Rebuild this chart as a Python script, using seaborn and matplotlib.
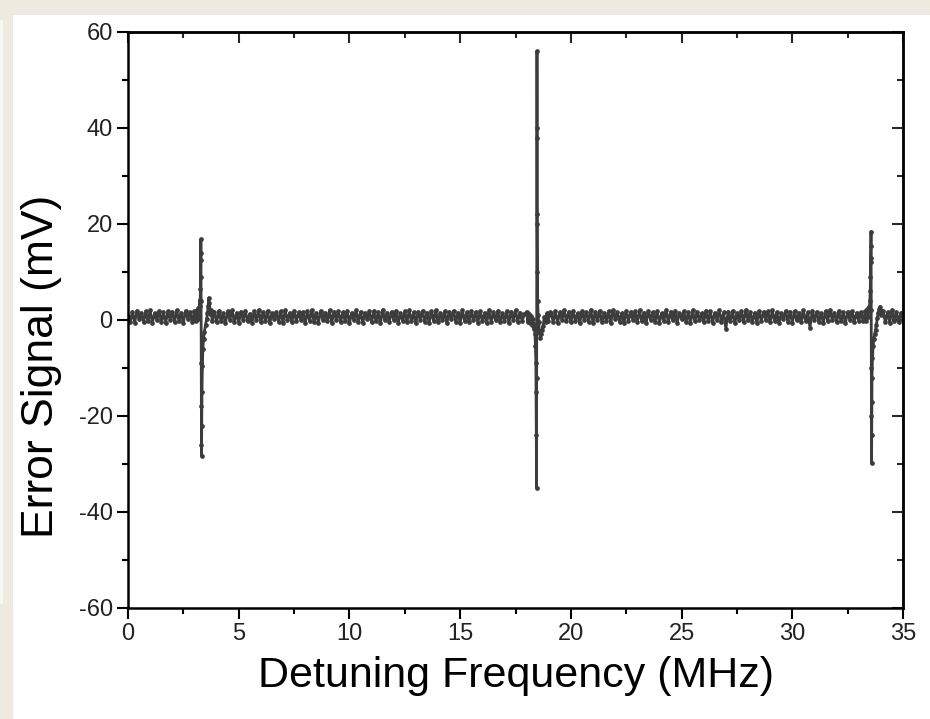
import numpy as np
import pandas as pd
import seaborn as sns
import matplotlib.pyplot as plt
from matplotlib.ticker import MultipleLocator
from matplotlib.patches import Rectangle

# baseline noise band, 0.1 MHz sampling
base_a_x = np.arange(0.0, 3.0, 0.1)
base_a_y = [0.9, -0.4, 1.7, -0.6, 1.9, 0.2, 1.5, -0.5, 1.8, -0.3,
            2.0, -0.6, 1.4, 0.0, 1.9, -0.4, 1.6, -0.7, 1.8, 0.1,
            1.7, -0.5, 2.0, -0.2, 1.5, -0.6, 1.9, 0.3, 1.6, -0.4]

base_b_x = np.arange(3.9, 17.95, 0.1)
base_b_y = [1.6, -0.5, 1.9, -0.2, 1.4, -0.7, 1.8, 0.1, 2.0, -0.4,
            1.5, -0.6, 1.7, 0.0, 1.9, -0.3, 1.3, -0.6, 1.8, -0.1,
            2.1, -0.5, 1.6, -0.2, 1.9, -0.7, 1.4, 0.2, 1.7, -0.4,
            1.8, -0.6, 2.0, -0.1, 1.5, -0.5, 1.9, -0.3, 1.6, 0.1,
            1.7, -0.7, 1.8, -0.2, 2.1, -0.4, 1.4, -0.6, 1.9, 0.0,
            1.5, -0.3, 2.0, -0.6, 1.7, 0.1, 1.8, -0.5, 1.6, -0.2,
            1.9, -0.7, 1.5, -0.1, 2.0, -0.4, 1.7, -0.6, 1.4, 0.2,
            1.8, -0.5, 1.9, -0.3, 1.6, -0.7, 2.1, -0.1, 1.5, -0.4,
            1.7, 0.0, 1.9, -0.6, 1.4, -0.2, 1.8, -0.5, 2.0, -0.3,
            1.6, -0.7, 1.7, 0.1, 1.9, -0.4, 1.5, -0.6, 1.8, -0.2,
            2.0, -0.5, 1.4, -0.1, 1.8, -0.7, 1.7, 0.2, 1.9, -0.4,
            1.5, -0.6, 2.1, -0.3, 1.6, -0.5, 1.9, 0.0, 1.7, -0.6,
            1.8, -0.2, 1.5, -0.7, 2.0, -0.4, 1.6, -0.1, 1.9, -0.5,
            1.4, -0.3, 1.8, -0.6, 1.7, 0.1, 2.0, -0.4, 1.5, -0.2,
            1.2]

base_c_x = np.arange(19.1, 33.25, 0.1)
base_c_y = [1.5, -0.4, 1.8, -0.6, 1.6, 0.0, 2.0, -0.3, 1.7, -0.5,
            1.9, -0.2, 1.4, -0.7, 1.8, 0.1, 1.6, -0.4, 2.1, -0.6,
            1.7, -0.1, 1.9, -0.5, 1.5, -0.3, 1.8, -0.7, 2.0, 0.2,
            1.6, -0.4, 1.4, -0.6, 1.9, -0.2, 1.7, 0.0, 1.8, -0.5,
            2.0, -0.3, 1.5, -0.7, 1.9, 0.1, 1.6, -0.4, 1.8, -0.6,
            1.4, -0.2, 2.1, -0.5, 1.7, -0.1, 1.9, -0.6, 1.5, 0.2,
            1.8, -0.4, 1.6, -0.7, 2.0, -0.3, 1.7, 0.0, 1.4, -0.5,
            1.9, -0.2, 1.8, -0.6, 1.5, 0.1, 2.0, -0.4, 1.6, -1.8,
            1.7, -0.3, 1.9, -0.7, 1.4, -0.1, 1.8, -0.5, 2.1, 0.0,
            1.6, -0.4, 1.5, -0.6, 1.9, -0.2, 1.7, 0.1, 1.8, -0.5,
            2.0, -0.3, 1.6, -0.7, 1.4, 0.2, 1.9, -0.4, 1.7, -0.6,
            1.8, -0.1, 1.5, -0.5, 2.0, -0.3, 1.6, -1.6, 1.9, 0.0,
            1.7, -0.4, 1.4, -0.6, 1.8, -0.2, 2.1, 0.1, 1.5, -0.5,
            1.9, -0.3, 1.6, -0.7, 1.7, 0.0, 1.8, -0.4, 1.5, -0.2,
            1.6, -0.3]

base_d_x = np.arange(34.1, 35.01, 0.1)
base_d_y = [1.9, -0.4, 1.6, -0.6, 2.0, -0.2, 1.7, -0.5, 1.5, 0.1]

# resonances (dispersive error signal)
res1_x = [3.00, 3.05, 3.10, 3.14, 3.18, 3.21, 3.24, 3.26, 3.27, 3.28,
          3.285, 3.29, 3.295, 3.30, 3.305, 3.31, 3.315, 3.32, 3.33, 3.34,
          3.36, 3.38, 3.41, 3.45, 3.50, 3.55, 3.59, 3.62, 3.65, 3.68,
          3.72, 3.76, 3.80, 3.85]
res1_y = [1.8, -0.3, 2.1, 0.2, 2.6, 1.0, 4.2, 3.0, 6.5, 9.0,
          12.5, 16.8, 14.0, 4.0, -9.0, -18.0, -26.0, -28.3, -22.0, -15.0,
          -9.5, -6.0, -4.0, -2.5, -1.0, 0.2, 1.5, 3.0, 4.6, 3.5,
          1.2, 2.0, -0.3, 1.6]

res2_x = [18.00, 18.05, 18.10, 18.15, 18.20, 18.24, 18.28, 18.32, 18.35, 18.38,
          18.40, 18.42, 18.43, 18.44, 18.45, 18.455, 18.46, 18.465, 18.47, 18.475,
          18.48, 18.49, 18.50, 18.52, 18.55, 18.58, 18.62, 18.66, 18.70, 18.75,
          18.80, 18.86, 18.92, 18.98, 19.04]
res2_y = [1.7, -0.4, 1.3, -0.6, 0.9, -1.0, 0.2, -1.8, -0.8, -3.0,
          -5.5, -9.0, -15.0, -24.0, -35.0, -12.0, 20.0, 40.0, 56.0, 38.0,
          22.0, 10.0, 4.0, 1.0, -0.5, -2.5, -3.8, -3.0, -2.0, -1.2,
          0.6, -0.5, 1.4, -0.3, 1.6]

res3_x = [33.30, 33.34, 33.38, 33.42, 33.45, 33.48, 33.50, 33.52, 33.53, 33.54,
          33.55, 33.555, 33.56, 33.565, 33.57, 33.575, 33.58, 33.585, 33.59, 33.60,
          33.62, 33.65, 33.68, 33.72, 33.76, 33.80, 33.84, 33.88, 33.92, 33.96,
          34.00, 34.04]
res3_y = [1.8, -0.2, 2.2, 0.6, 2.8, 1.8, 4.0, 6.0, 9.0, 12.0,
          15.5, 18.4, 13.0, 2.0, -10.0, -20.0, -29.8, -24.0, -17.0, -12.0,
          -8.0, -5.5, -4.0, -3.0, -2.0, -1.0, 0.5, 1.5, 2.2, 2.8,
          1.0, 1.8]

x_ticks = [0, 5, 10, 15, 20, 25, 30, 35]
y_ticks = [-60, -40, -20, 0, 20, 40, 60]

freq = np.concatenate([base_a_x, res1_x, base_b_x, res2_x, base_c_x, res3_x, base_d_x])
signal = np.concatenate([base_a_y, res1_y, base_b_y, res2_y, base_c_y, res3_y, base_d_y])
df = pd.DataFrame({"freq": freq, "signal": signal})

sns.set_theme(style="ticks")
plt.rcParams["font.family"] = ["Liberation Sans", "DejaVu Sans"]
plt.rcParams["axes.unicode_minus"] = False

fig = plt.figure(figsize=(9.3, 7.19), dpi=100, facecolor="white")
# page frame strips
fig.patches.append(Rectangle((0, 1 - 15 / 719), 1, 15 / 719, transform=fig.transFigure,
                             facecolor="#EEEAE0", edgecolor="none", zorder=0))
fig.patches.append(Rectangle((0, 0), 13 / 930, 1, transform=fig.transFigure,
                             facecolor="#EEEAE0", edgecolor="none", zorder=0))
fig.patches.append(Rectangle((0, 0.16), 3 / 930, 1 - 0.16 - 20 / 719, transform=fig.transFigure,
                             facecolor="#F7F7F5", edgecolor="none", zorder=0))

ax = fig.add_axes([128 / 930, 1 - 608 / 719, 775 / 930, 576 / 719])
sns.lineplot(data=df, x="freq", y="signal", ax=ax, sort=False, estimator=None,
             color="#3c3c3c", linewidth=2.0, marker="o", markersize=3.4,
             markeredgewidth=0)

ax.set_xlim(0, 35)
ax.set_ylim(-60, 60)
ax.set_xticks(x_ticks)
ax.set_yticks(y_ticks)
ax.xaxis.set_minor_locator(MultipleLocator(2.5))
ax.yaxis.set_minor_locator(MultipleLocator(10))
for s in ax.spines.values():
    s.set_visible(True)
    s.set_linewidth(1.8)
    s.set_color("black")
ax.tick_params(which="major", direction="out", length=8, width=1.5, color="black",
               labelsize=17, labelcolor="#222222", pad=3)
ax.tick_params(which="minor", direction="out", length=4.3, width=1.5, color="black")

# inward ticks on top and right
sec_x = ax.secondary_xaxis("top")
sec_x.set_xticks(x_ticks)
sec_x.xaxis.set_minor_locator(MultipleLocator(2.5))
sec_x.tick_params(which="major", direction="in", length=8, width=1.5, labeltop=False)
sec_x.tick_params(which="minor", direction="in", length=4.3, width=1.5)
sec_x.spines["top"].set_linewidth(1.8)
sec_y = ax.secondary_yaxis("right")
sec_y.set_yticks(y_ticks)
sec_y.yaxis.set_minor_locator(MultipleLocator(10))
sec_y.tick_params(which="major", direction="in", length=8, width=1.5, labelright=False)
sec_y.tick_params(which="minor", direction="in", length=4.3, width=1.5)
sec_y.spines["right"].set_linewidth(1.8)

ax.set_xlabel("Detuning Frequency (MHz)", fontsize=31, color="black", labelpad=8)
ax.set_ylabel("Error Signal (mV)", fontsize=32, color="black")
ax.yaxis.set_label_coords(-0.085, 0.42)

fig.savefig("out.png", dpi=100, facecolor=fig.get_facecolor())
